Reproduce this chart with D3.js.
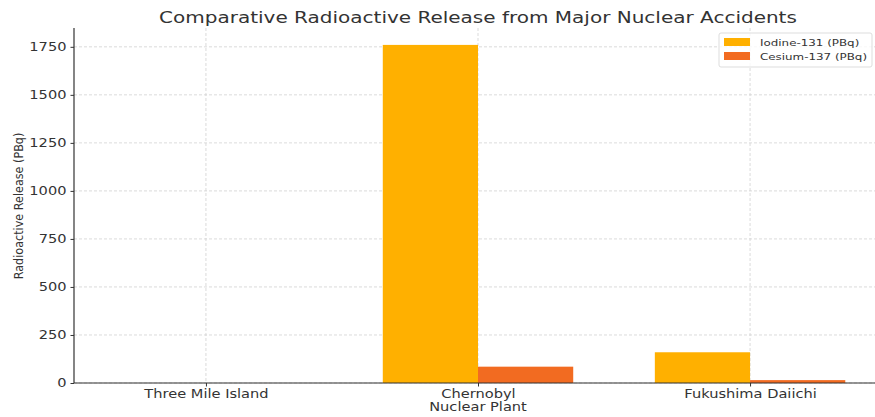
<!DOCTYPE html>
<html><head><meta charset="utf-8">
<script src="https://cdn.jsdelivr.net/npm/d3@7"></script>
<style>body{margin:0;background:#fff;} svg{display:block;font-family:"DejaVu Sans",sans-serif;}</style>
</head><body><svg id="c" width="875" height="417"></svg>
<script>
const categories = ["Three Mile Island", "Chernobyl", "Fukushima Daiichi"];
const seriesNames = ["Iodine-131 (PBq)", "Cesium-137 (PBq)"];
const iodine = [0.0006, 1760, 160];
const cesium = [0, 85, 15];
const yTicks = [0, 250, 500, 750, 1000, 1250, 1500, 1750];
const colors = ["#FFB000", "#F26B21"];

const svg = d3.select("#c");
const L = 74, R = 882, T = 28, B = 383;
const barW = 0.35;
const x = d3.scaleLinear().domain([-0.485, 2.485]).range([L, R]);
const y = d3.scaleLinear().domain([0, 1848]).range([B, T]);

function stretch(sel, k) {
  sel.each(function() {
    const w = this.getComputedTextLength();
    d3.select(this).attr("textLength", w * k).attr("lengthAdjust", "spacingAndGlyphs");
  });
}

// grid
const g = svg.append("g");
g.selectAll("line.hy").data(yTicks).join("line")
  .attr("x1", L).attr("x2", R).attr("y1", d => y(d)).attr("y2", d => y(d))
  .attr("stroke", "#d2d2d2").attr("stroke-width", 0.8).attr("stroke-dasharray", "3,2");
g.selectAll("line.vx").data(categories).join("line")
  .attr("x1", (d,i) => x(i)).attr("x2", (d,i) => x(i)).attr("y1", T).attr("y2", B)
  .attr("stroke", "#d2d2d2").attr("stroke-width", 0.8).attr("stroke-dasharray", "3,2");

// bars
const series = [iodine, cesium];
series.forEach((vals, s) => {
  svg.append("g").selectAll("rect").data(vals).join("rect")
    .attr("x", (d,i) => x(i + (s === 0 ? -barW : 0)))
    .attr("width", x(barW) - x(0))
    .attr("y", d => y(d))
    .attr("height", d => B - y(d))
    .attr("fill", colors[s]);
});

// axes
const ya = svg.append("g").attr("transform", `translate(${L},0)`)
  .call(d3.axisLeft(y).tickValues(yTicks).tickFormat(d3.format("d")).tickSize(3.5).tickPadding(4));
const xa = svg.append("g").attr("transform", `translate(0,${B})`)
  .call(d3.axisBottom(x).tickValues([0,1,2]).tickFormat(i => categories[i]).tickSize(3.5).tickPadding(3));
[ya, xa].forEach(a => {
  a.attr("font-size", null).attr("font-family", null);
  a.select(".domain").attr("stroke", "#333").attr("stroke-width", 1.2);
  a.selectAll(".tick line").attr("stroke", "#333");
  a.selectAll("text").attr("fill", "#333").style("font-family", "DejaVu Sans").style("font-size", "11.5px");
});
ya.select(".domain").attr("d", `M0,${T}V${B}`);
xa.select(".domain").attr("d", `M${L},0H${R}`);
stretch(ya.selectAll("text"), 1.27);
stretch(xa.selectAll("text"), 1.27);

// labels
const xl = svg.append("text").attr("x", x(1)).attr("y", 410.5).attr("text-anchor", "middle")
  .attr("fill", "#333").style("font-size", "11.5px").text("Nuclear Plant");
stretch(xl, 1.27);
svg.append("text").attr("transform", `translate(22.5,206) rotate(-90) scale(1,1.1)`)
  .attr("text-anchor", "middle").attr("fill", "#333")
  .style("font-family", "DejaVu Sans").style("font-size", "11.2px")
  .text("Radioactive Release (PBq)");
const tt = svg.append("text").attr("x", x(1)).attr("y", 23).attr("text-anchor", "middle")
  .attr("fill", "#333").style("font-size", "16px")
  .text("Comparative Radioactive Release from Major Nuclear Accidents");
stretch(tt, 1.25);

// legend
const lg = svg.append("g").attr("transform", "translate(719,33)");
lg.append("rect").attr("width", 153).attr("height", 34).attr("rx", 2)
  .attr("fill", "#fff").attr("fill-opacity", 0.8).attr("stroke", "#ddd");
seriesNames.forEach((n, i) => {
  lg.append("rect").attr("x", 5).attr("y", 5 + i*14).attr("width", 26).attr("height", 8).attr("fill", colors[i]);
  const t = lg.append("text").attr("x", 41).attr("y", 13 + i*14).attr("fill", "#333")
    .style("font-size", "9.5px").text(n);
  stretch(t, 1.25);
});
</script></body></html>
